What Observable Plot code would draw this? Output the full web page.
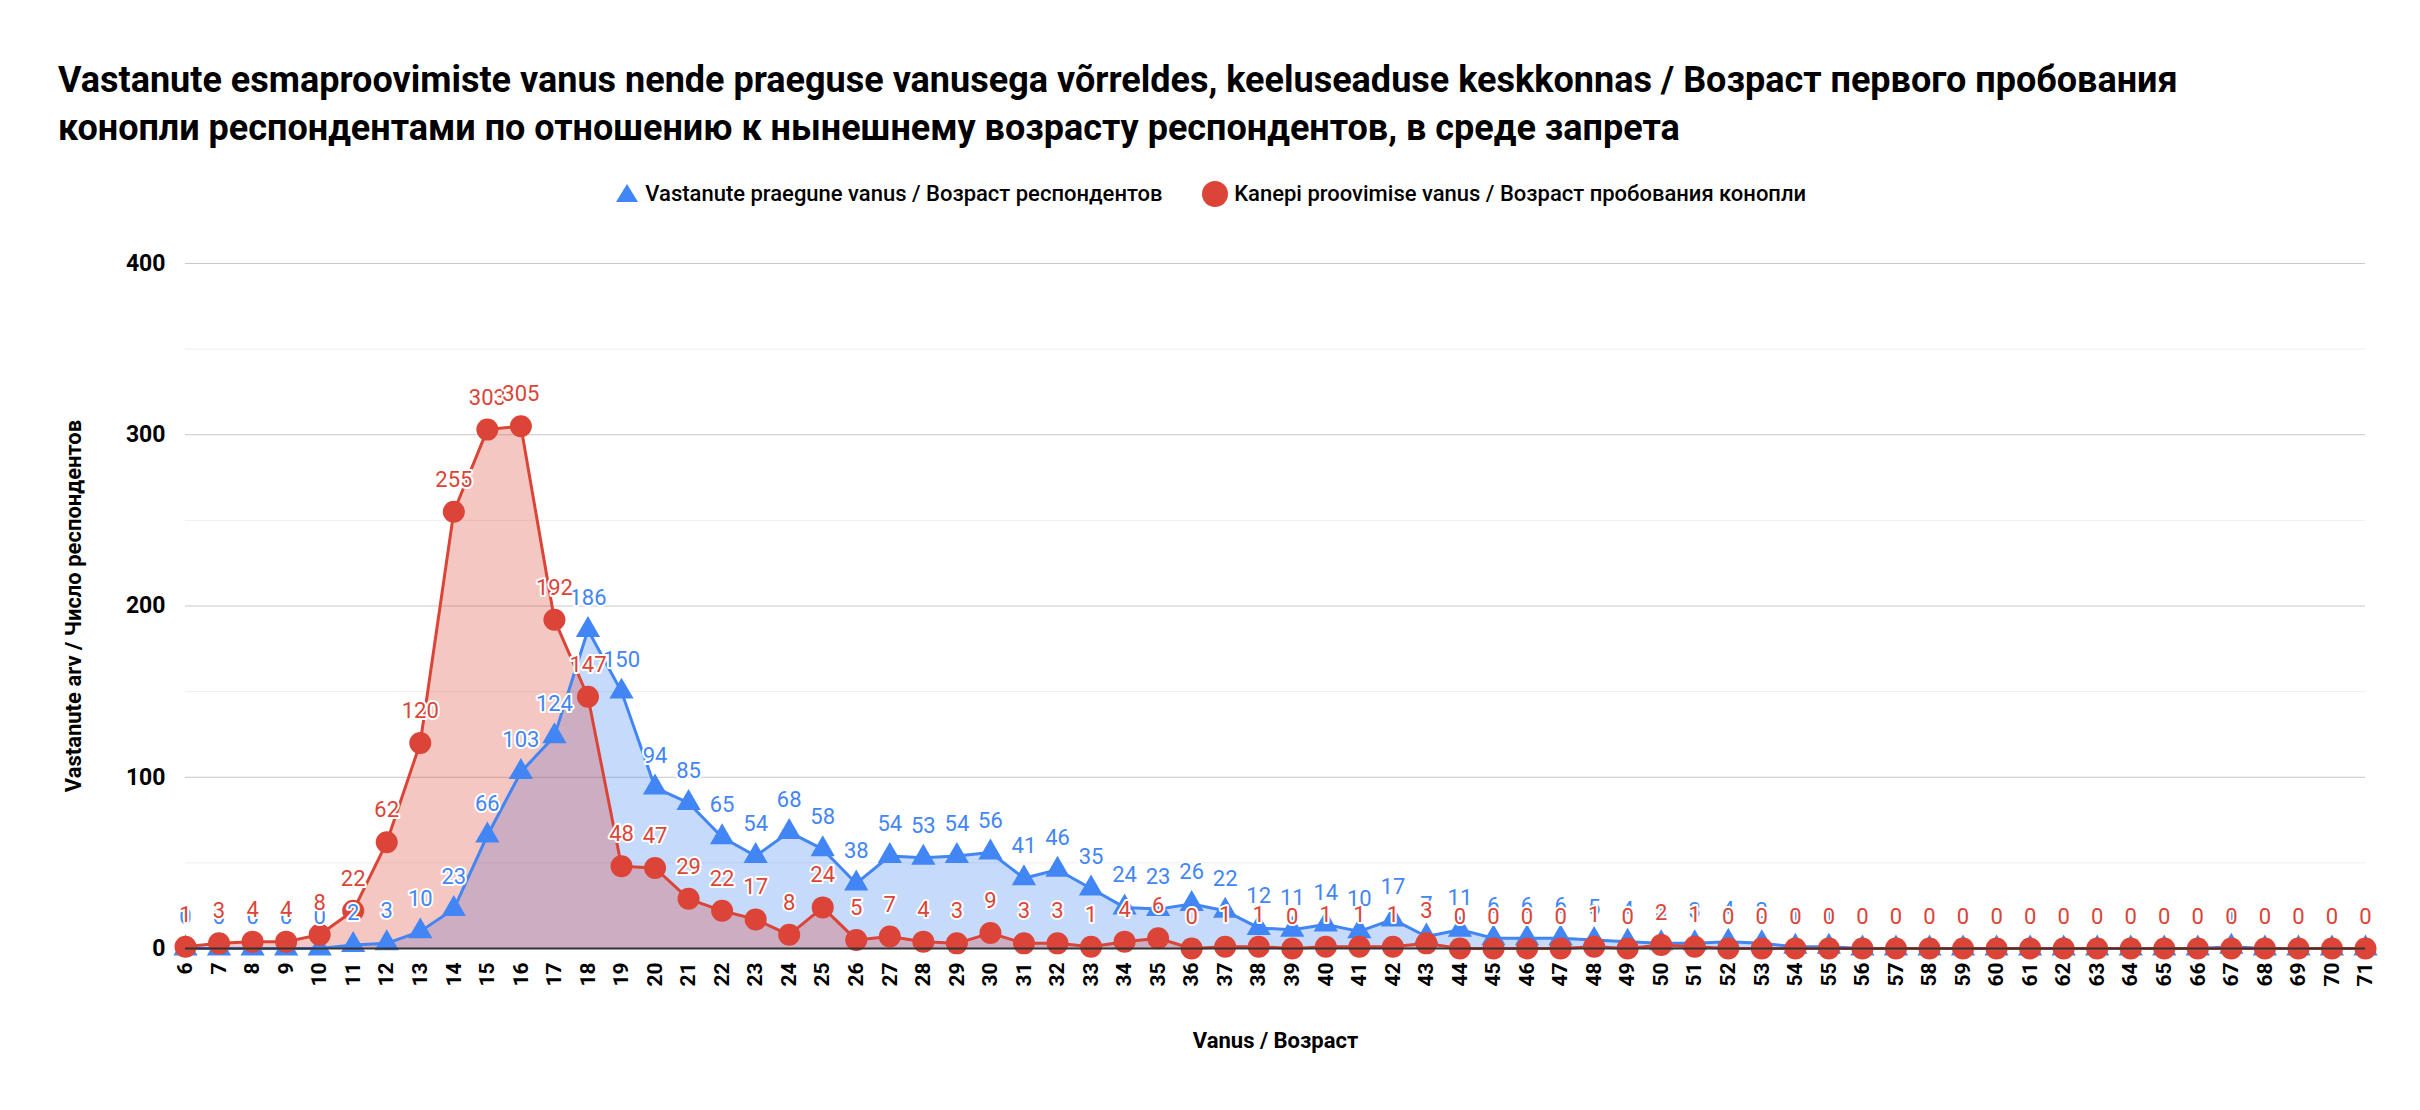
<!DOCTYPE html><html><head><meta charset="utf-8">
<script src="https://cdn.jsdelivr.net/npm/d3@7"></script>
<script src="https://cdn.jsdelivr.net/npm/@observablehq/plot@0.6"></script>
<style>body{margin:0;background:#fff;font-family:Roboto,sans-serif}
#t{position:absolute;left:58px;top:56px;font:bold 36px Roboto;line-height:48px;color:#000;width:2180px}
#l{position:absolute;top:180px;left:0;width:2420px;text-align:center;font:500 22px Roboto}
#c{position:absolute;top:220px;left:0}</style></head><body>
<div id="t">Vastanute esmaproovimiste vanus nende praeguse vanusega võrreldes, keeluseaduse keskkonnas / Возраст первого пробования конопли респондентами по отношению к нынешнему возрасту респондентов, в среде запрета</div>
<div id="l"><svg width="26" height="22" style="vertical-align:-3px"><path d="M13 2 L24 20 L2 20Z" fill="#4285f4"/></svg> Vastanute praegune vanus / Возраст респондентов &nbsp;&nbsp;&nbsp;&nbsp;&nbsp; <svg width="28" height="28" style="vertical-align:-7px"><circle cx="14" cy="14" r="13" fill="#db4437"/></svg> Kanepi proovimise vanus / Возраст пробования конопли</div>
<div id="c"></div>
<script>
const ages = d3.range(6,72);
const current = [0,0,0,0,0,2,3,10,23,66,103,124,186,150,94,85,65,54,68,58,38,54,53,54,56,41,46,35,24,23,26,22,12,11,14,10,17,7,11,6,6,6,5,4,3,3,4,3,1,1,0,0,0,0,0,0,0,0,0,0,0,1,0,0,0,0];
const tried = [1,3,4,4,8,22,62,120,255,303,305,192,147,48,47,29,22,17,8,24,5,7,4,3,9,3,3,1,4,6,0,1,1,0,1,1,1,3,0,0,0,0,1,0,2,1,0,0,0,0,0,0,0,0,0,0,0,0,0,0,0,0,0,0,0,0];
const yTicks = [0,100,200,300,400];
const B = ages.map((a,i)=>({a,v:current[i]}));
const R = ages.map((a,i)=>({a,v:tried[i]}));
const blue="#4285f4", red="#db4437";
const p = Plot.plot({
  width:2420, height:890, marginTop:43, marginBottom:162, marginLeft:185, marginRight:55,
  style:{fontFamily:"Roboto", fontSize:"20px"},
  x:{domain:[6,71], axis:null},
  y:{domain:[0,400], axis:null},
  marks:[
    Plot.ruleY(d3.range(50,401,50),{stroke:d=>d%100?"#eeeeee":"#c8c8c8"}),
    Plot.areaY(B,{x:"a",y:"v",fill:blue,fillOpacity:0.3}),
    Plot.areaY(R,{x:"a",y:"v",fill:red,fillOpacity:0.3}),
    Plot.lineY(B,{x:"a",y:"v",stroke:blue,strokeWidth:3}),
    Plot.lineY(R,{x:"a",y:"v",stroke:red,strokeWidth:3}),
    Plot.dot(B,{x:"a",y:"v",symbol:"triangle",r:9,fill:blue}),
    Plot.dot(R,{x:"a",y:"v",r:11,fill:red}),
    Plot.text(B,{x:"a",y:"v",text:"v",dy:-32,fill:blue,stroke:"white",strokeWidth:4,fontSize:22}),
    Plot.text(R,{x:"a",y:"v",text:"v",dy:-32,fill:red,stroke:"white",strokeWidth:4,fontSize:22}),
    Plot.ruleY([0],{stroke:"#333",strokeWidth:2}),
    Plot.text(yTicks,{x:6,y:d=>d,text:d=>String(d),textAnchor:"end",dx:-20,fontWeight:"bold",fontSize:23}),
    Plot.text(ages,{x:d=>d,y:0,text:d=>String(d),rotate:-90,textAnchor:"end",dy:14,fontWeight:"bold",fontSize:21}),
    Plot.text(["Vanus / Возраст"],{x:38.5,y:0,dy:92,fontWeight:"bold",fontSize:22}),
    Plot.text(["Vastanute arv / Число респондентов"],{x:6,y:200,dx:-112,rotate:-90,fontWeight:"bold",fontSize:22})
  ]
});
document.getElementById("c").appendChild(p);
</script></body></html>
